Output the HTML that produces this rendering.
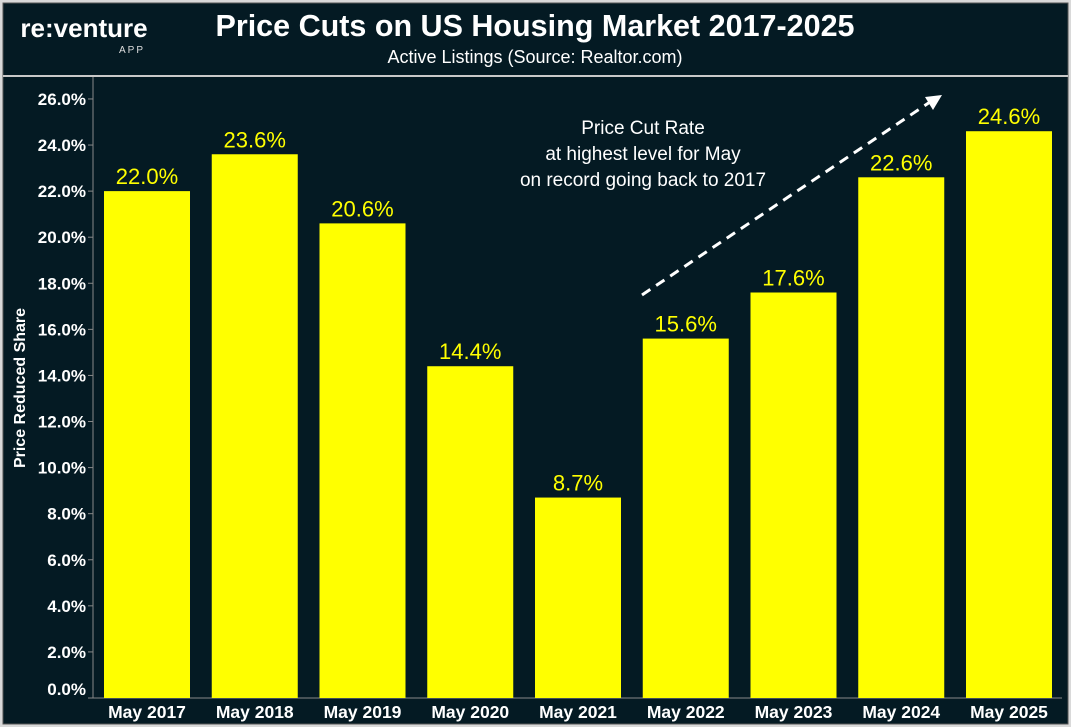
<!DOCTYPE html>
<html><head><meta charset="utf-8"><style>
html,body{margin:0;padding:0;background:#d9d9d9;}
svg{display:block;font-family:"Liberation Sans",Arial,sans-serif;}
</style></head><body>
<svg width="1071" height="727" viewBox="0 0 1071 727">
<rect x="3" y="3" width="1065" height="721" fill="#041a23" stroke="#555" stroke-width="1"/>
<line x1="3" y1="76" x2="1068" y2="76" stroke="#c8c8c8" stroke-width="2"/>
<text x="84" y="37" fill="#fff" font-size="26" font-weight="bold" text-anchor="middle">re:venture</text>
<text x="132" y="53" fill="#ddd" font-size="10" text-anchor="middle" letter-spacing="2">APP</text>
<text x="535" y="36" fill="#fff" font-size="30.5" font-weight="bold" text-anchor="middle">Price Cuts on US Housing Market 2017-2025</text>
<text x="535" y="63" fill="#fff" font-size="18" text-anchor="middle">Active Listings (Source: Realtor.com)</text>
<line x1="93" y1="77" x2="93" y2="698" stroke="#888" stroke-width="1"/>
<line x1="93" y1="698" x2="1062" y2="698" stroke="#888" stroke-width="1"/>
<text transform="translate(25,388) rotate(-90)" fill="#fff" font-size="16" font-weight="bold" text-anchor="middle">Price Reduced Share</text>
<g id="yaxis"></g>
<g id="bars"></g>
<text fill="#fff" font-size="19" text-anchor="middle"><tspan x="643" y="134">Price Cut Rate</tspan><tspan x="643" y="160">at highest level for May</tspan><tspan x="643" y="186">on record going back to 2017</tspan></text>
<line x1="642" y1="295" x2="930" y2="102" stroke="#fff" stroke-width="3" stroke-dasharray="10,7"/>
<polygon points="942,95 925,97 933,110" fill="#fff"/>
</svg>
<script>
const categories=["May 2017","May 2018","May 2019","May 2020","May 2021","May 2022","May 2023","May 2024","May 2025"];
const values=[22.0,23.6,20.6,14.4,8.7,15.6,17.6,22.6,24.6];
const valueLabels=["22.0%","23.6%","20.6%","14.4%","8.7%","15.6%","17.6%","22.6%","24.6%"];
const ticks=[0,2,4,6,8,10,12,14,16,18,20,22,24,26];
const NS="http://www.w3.org/2000/svg";
function y(v){return 698-v*23.04;}
function xc(i){return 147+i*107.75;}
const ya=document.getElementById('yaxis'),bg=document.getElementById('bars');
function mk(tag,at,p,txt){const e=document.createElementNS(NS,tag);for(const k in at)e.setAttribute(k,at[k]);if(txt!==undefined)e.textContent=txt;p.appendChild(e);return e;}
ticks.forEach(t=>{
 const yy=Math.min(y(t),689);
 const l=mk('line',{x1:88,x2:93,y1:y(t),y2:y(t),stroke:'#888'},ya);
 
 
 const tx=mk('text',{x:86,y:yy+6,fill:'#fff','font-size':17,'font-weight':'bold','text-anchor':'end'},ya,t.toFixed(1)+'%');
 
 
});
values.forEach((v,i)=>{
 const r=mk('rect',{x:xc(i)-43,y:y(v),width:86,height:698-y(v),fill:'#ffff00'},bg);
 
 
 const lb=mk('text',{x:xc(i),y:y(v)-7,fill:'#ffff00','font-size':22,'text-anchor':'middle'},bg,valueLabels[i]);
 
 
 const cx=mk('text',{x:xc(i),y:718,fill:'#fff','font-size':17.5,'font-weight':'bold','text-anchor':'middle'},bg,categories[i]);
 
 
});
</script>
</body></html>
